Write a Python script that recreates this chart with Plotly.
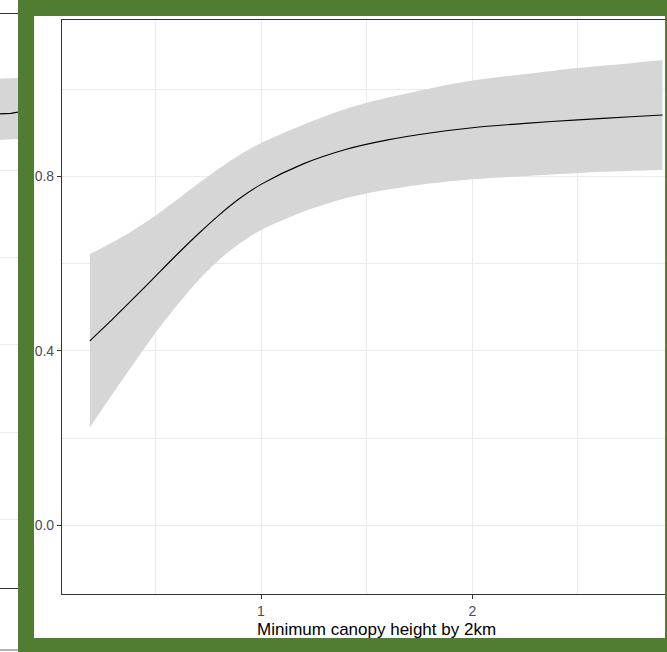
import plotly.graph_objects as go

W, H = 667, 652

# Fitted probability against minimum canopy height (2 km buffer)
canopy_height = [0.19, 0.3, 0.4, 0.5, 0.6, 0.7, 0.8, 0.9, 1.0, 1.2, 1.4, 1.6,
                 1.8, 2.0, 2.25, 2.5, 2.75, 2.9]
fit = [0.423, 0.474, 0.522, 0.571, 0.620, 0.667, 0.711, 0.750, 0.782, 0.829,
       0.862, 0.884, 0.900, 0.912, 0.922, 0.930, 0.937, 0.941]
upper = [0.622, 0.650, 0.678, 0.710, 0.746, 0.783, 0.818, 0.850, 0.877, 0.919,
         0.955, 0.981, 1.002, 1.020, 1.035, 1.049, 1.060, 1.067]
lower = [0.225, 0.303, 0.373, 0.441, 0.503, 0.560, 0.608, 0.647, 0.677, 0.719,
         0.750, 0.770, 0.784, 0.794, 0.801, 0.808, 0.813, 0.815]

# Right-hand end of the neighbouring panel
nb_x = [2.80, 2.86, 2.90]
nb_fit = [0.930, 0.931, 0.934]
nb_upper = [1.011, 1.011, 1.012]
nb_lower = [0.870, 0.871, 0.872]

y_ticks = [0.0, 0.4, 0.8]
y_tick_text = ["0.0", "0.4", "0.8"]
x_ticks = [1, 2]
x_tick_text = ["1", "2"]
x_title = "Minimum canopy height by 2km"

RIBBON = "#D6D6D6"
GRID = "#EBEBEB"
BORDER = "#333333"
FRAME = "#517D33"
FONT = "Liberation Sans, Arial, sans-serif"
TICK_FONT = dict(family=FONT, size=14, color="#4D4D4D")


def px(x):
    return x / W


def py(y):
    return 1 - y / H


SMOOTH = dict(shape="spline", smoothing=0.8)

fig = go.Figure()

# main panel: confidence band + fitted line
fig.add_trace(go.Scatter(x=canopy_height, y=lower, mode="lines",
                         line=dict(width=0, color=RIBBON, **SMOOTH),
                         showlegend=False, hoverinfo="skip"))
fig.add_trace(go.Scatter(x=canopy_height, y=upper, mode="lines", fill="tonexty",
                         fillcolor=RIBBON,
                         line=dict(width=0, color=RIBBON, **SMOOTH),
                         showlegend=False, hoverinfo="skip"))
fig.add_trace(go.Scatter(x=canopy_height, y=fit, mode="lines",
                         line=dict(color="black", width=1.1, **SMOOTH),
                         showlegend=False))

# neighbouring panel
fig.add_trace(go.Scatter(x=nb_x, y=nb_lower, mode="lines", xaxis="x2", yaxis="y2",
                         line=dict(width=0, color=RIBBON), showlegend=False))
fig.add_trace(go.Scatter(x=nb_x, y=nb_upper, mode="lines", xaxis="x2", yaxis="y2",
                         fill="tonexty", fillcolor=RIBBON,
                         line=dict(width=0, color=RIBBON), showlegend=False))
fig.add_trace(go.Scatter(x=nb_x, y=nb_fit, mode="lines", xaxis="x2", yaxis="y2",
                         line=dict(color="black", width=1.1), showlegend=False))

y_range = [-0.1576, 1.159]

fig.update_layout(
    width=W, height=H,
    margin=dict(l=0, r=0, t=0, b=0),
    paper_bgcolor="white", plot_bgcolor="white",
    font=dict(family=FONT, color="#4D4D4D", size=14),
    xaxis=dict(
        domain=[px(62), px(665)], range=[0.0582, 2.912], anchor="y",
        tickvals=x_ticks, ticktext=x_tick_text, tickfont=TICK_FONT,
        ticks="outside", ticklen=4, tickcolor=BORDER, tickwidth=1,
        showgrid=True, gridcolor=GRID, gridwidth=1.1,
        minor=dict(dtick=0.5, tick0=0, showgrid=True, gridcolor=GRID,
                   gridwidth=0.6, ticks=""),
        showline=True, mirror=True, linecolor=BORDER, linewidth=1.1,
        zeroline=False,
    ),
    yaxis=dict(
        domain=[py(594), py(20)], range=y_range, anchor="x",
        tickvals=y_ticks, ticktext=y_tick_text, tickfont=TICK_FONT,
        ticks="outside", ticklen=4, tickcolor=BORDER, tickwidth=1,
        showgrid=True, gridcolor=GRID, gridwidth=1.1,
        minor=dict(dtick=0.2, tick0=0, showgrid=True, gridcolor=GRID,
                   gridwidth=0.6, ticks=""),
        showline=True, linecolor=BORDER, linewidth=1.1,
        zeroline=False,
    ),
    xaxis2=dict(
        domain=[0, px(18)], range=[2.80, 2.90], anchor="y2",
        showgrid=False, showticklabels=False, ticks="",
        showline=True, mirror=True, linecolor=BORDER, linewidth=1.1,
        zeroline=False,
    ),
    yaxis2=dict(
        domain=[py(588), py(14)], range=y_range, anchor="x2",
        dtick=0.2, tick0=0, showgrid=True, gridcolor=GRID, gridwidth=1,
        showticklabels=False, ticks="", showline=False, zeroline=False,
    ),
    annotations=[dict(
        text=x_title, xref="paper", yref="paper",
        x=px(377), y=py(629), xanchor="center", yanchor="middle",
        showarrow=False, font=dict(family=FONT, size=17, color="black"),
    )],
)

# green frame around the panel
frame = [
    (18, 0, 667, 16),
    (18, 0, 34, 652),
    (18, 638, 667, 652),
    (665, 0, 667, 652),
]
for x0, y0, x1, y1 in frame:
    fig.add_shape(type="rect", xref="paper", yref="paper",
                  x0=px(x0), x1=px(x1), y0=py(y1), y1=py(y0),
                  fillcolor=FRAME, line=dict(width=0), layer="above")

fig.add_shape(type="line", xref="paper", yref="paper",
              x0=0, x1=px(18), y0=py(650), y1=py(650),
              line=dict(color="#666666", width=1), layer="above")

fig.write_html("out.html")
